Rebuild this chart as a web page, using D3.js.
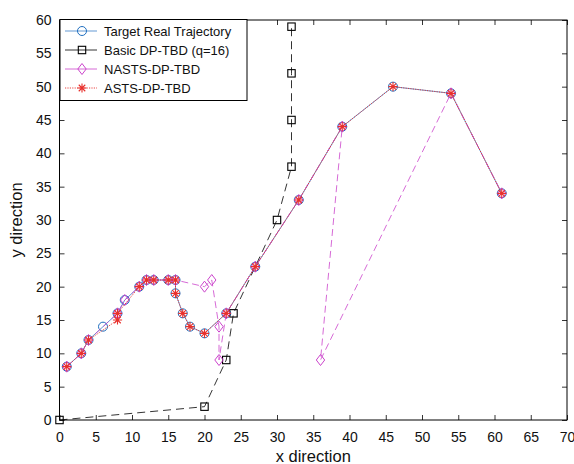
<!DOCTYPE html>
<html>
<head>
<meta charset="utf-8">
<script src="https://cdn.jsdelivr.net/npm/d3@7"></script>
<style>
  body { margin: 0; background: #fff; }
  svg { display: block; font-family: "Liberation Sans", Arial, sans-serif; }
</style>
</head>
<body>
<div id="chart"></div>
<script>
// ---- data (x, y) ----
var targetPts = [[1,8],[3,10],[4,12],[6,14],[8,16],[9,18],[11,20],[12,21],[13,21],[15,21],[16,21],
  [16,19],[17,16],[18,14],[20,13],[23,16],[27,23],[33,33],[39,44],[46,50],[54,49],[61,34]];
var basicPts = [[0,0],[20,2],[23,9],[24,16],[30,30],[32,38],[32,45],[32,52],[32,59]];
var nastsPts = [[1,8],[3,10],[4,12],[8,16],[9,18],[11,20],[12,21],[13,21],[15,21],[16,21],
  [20,20],[21,21],[22,14],[22,9],[23,16],[27,23],[33,33],[39,44],[36,9],[54,49],[61,34]];
var astsPts = [[1,8],[3,10],[4,12],[8,15],[8,16],[11,20],[12,21],[13,21],[15,21],[16,21],
  [16,19],[17,16],[18,14],[20,13],[23,16],[27,23],[33,33],[39,44],[46,50],[54,49],[61,34]];

var seriesNames = ["Target Real Trajectory", "Basic DP-TBD (q=16)", "NASTS-DP-TBD", "ASTS-DP-TBD"];
var xTicks = d3.range(0, 71, 5);
var yTicks = d3.range(0, 61, 5);

// ---- styles ----
var attrs = {
  width: 574,
  height: 464,
  left: 59.5,
  right: 567,
  top: 20,
  bottom: 420,
  tickFont: 14,
  titleFont: 16.5,
  legendFont: 13
};

var series = [
  { name: seriesNames[0], data: targetPts, color: "#1f6fc0", dash: null, width: 0.7, marker: "circle" },
  { name: seriesNames[1], data: basicPts, color: "#000000", dash: "8,5", width: 0.8, marker: "square" },
  { name: seriesNames[2], data: nastsPts, color: "#cc44cc", dash: "7,4", width: 0.8, marker: "diamond" },
  { name: seriesNames[3], data: astsPts, color: "#e8302c", dash: "1.2,1.2", width: 0.9, marker: "star" }
];

var svg = d3.select("#chart").append("svg")
  .attr("width", attrs.width)
  .attr("height", attrs.height);

var x = d3.scaleLinear().domain([0, 70]).range([attrs.left, attrs.right]);
var y = d3.scaleLinear().domain([0, 60]).range([attrs.bottom, attrs.top]);

// draw a marker of a given type into g
function drawMarker(g, type, color) {
  if (type === "circle") {
    g.append("circle").attr("r", 4.5).attr("fill", "none").attr("stroke", color).attr("stroke-width", 1);
  } else if (type === "square") {
    g.append("rect").attr("x", -3.7).attr("y", -3.7).attr("width", 7.4).attr("height", 7.4)
      .attr("fill", "none").attr("stroke", color).attr("stroke-width", 1.1);
  } else if (type === "diamond") {
    g.append("path").attr("d", "M0,-5.5L4.2,0L0,5.5L-4.2,0Z")
      .attr("fill", "none").attr("stroke", color).attr("stroke-width", 1);
  } else {
    var r = 4.6, s = r * 0.7071;
    g.append("path").attr("d", "M" + -r + ",0H" + r + "M0," + -r + "V" + r +
        "M" + -s + "," + -s + "L" + s + "," + s + "M" + -s + "," + s + "L" + s + "," + -s)
      .attr("stroke", color).attr("stroke-width", 1.1);
  }
}

// ---- axes ----
var axisG = svg.append("g");
axisG.append("rect")
  .attr("x", attrs.left).attr("y", attrs.top)
  .attr("width", attrs.right - attrs.left).attr("height", attrs.bottom - attrs.top)
  .attr("fill", "#fff").attr("stroke", "#000").attr("stroke-width", 1);

var xAxis = axisG.append("g").attr("transform", "translate(0," + attrs.bottom + ")")
  .call(d3.axisBottom(x).tickValues(xTicks).tickSizeInner(-5).tickSizeOuter(0).tickPadding(12));
var xAxisTop = axisG.append("g").attr("transform", "translate(0," + attrs.top + ")")
  .call(d3.axisTop(x).tickValues(xTicks).tickSizeInner(-5).tickSizeOuter(0).tickFormat(""));
var yAxis = axisG.append("g").attr("transform", "translate(" + attrs.left + ",0)")
  .call(d3.axisLeft(y).tickValues(yTicks).tickSizeInner(-5).tickSizeOuter(0).tickPadding(8));
var yAxisRight = axisG.append("g").attr("transform", "translate(" + attrs.right + ",0)")
  .call(d3.axisRight(y).tickValues(yTicks).tickSizeInner(-5).tickSizeOuter(0).tickFormat(""));

axisG.selectAll(".domain").remove();
axisG.selectAll(".tick line").attr("stroke", "#000").attr("stroke-width", 0.8);
axisG.selectAll(".tick text")
  .attr("fill", "#111")
  .attr("font-size", attrs.tickFont)
  .attr("font-family", "Liberation Sans, Arial, sans-serif");

svg.append("text")
  .attr("x", (attrs.left + attrs.right) / 2).attr("y", 462)
  .attr("text-anchor", "middle").attr("font-size", attrs.titleFont).attr("fill", "#111")
  .text("x direction");
svg.append("text")
  .attr("transform", "translate(22," + ((attrs.top + attrs.bottom) / 2) + ") rotate(-90)")
  .attr("text-anchor", "middle").attr("font-size", attrs.titleFont).attr("fill", "#111")
  .text("y direction");

// ---- series ----
var line = d3.line().x(function(d) { return x(d[0]); }).y(function(d) { return y(d[1]); });
var plotG = svg.append("g");

series.forEach(function(s) {
  plotG.append("path")
    .datum(s.data)
    .attr("d", line)
    .attr("fill", "none")
    .attr("stroke", s.color)
    .attr("stroke-width", s.width)
    .attr("stroke-dasharray", s.dash);
  plotG.selectAll(null).data(s.data).enter().append("g")
    .attr("transform", function(d) { return "translate(" + x(d[0]) + "," + y(d[1]) + ")"; })
    .each(function() { drawMarker(d3.select(this), s.marker, s.color); });
});

// ---- legend ----
var legend = svg.append("g");
legend.append("rect")
  .attr("x", attrs.left + 0.5).attr("y", attrs.top - 0.5)
  .attr("width", 187).attr("height", 81)
  .attr("fill", "#fff").attr("stroke", "#000").attr("stroke-width", 1);

var items = legend.selectAll(".legend-item").data(series).enter().append("g")
  .attr("class", "legend-item")
  .attr("transform", function(d, i) { return "translate(0," + (31 + i * 19) + ")"; });

items.append("line")
  .attr("x1", 65).attr("x2", 97).attr("y1", 0).attr("y2", 0)
  .attr("stroke", function(d) { return d.color; })
  .attr("stroke-width", function(d) { return d.width; })
  .attr("stroke-dasharray", function(d) { return d.dash === "1.2,1.2" ? d.dash : null; });
items.each(function(d) {
  var g = d3.select(this).append("g").attr("transform", "translate(82,0)");
  drawMarker(g, d.marker, d.color);
});
items.append("text")
  .attr("x", 104).attr("y", 0).attr("dy", "0.35em")
  .attr("font-size", attrs.legendFont).attr("fill", "#111")
  .text(function(d) { return d.name; });
</script>
</body>
</html>
